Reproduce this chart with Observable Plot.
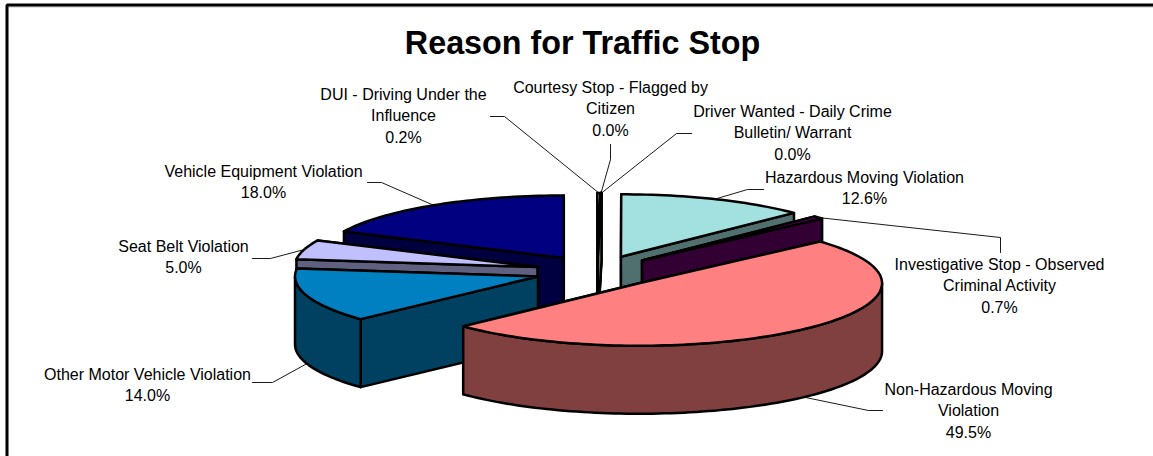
<!DOCTYPE html>
<html>
<head>
<meta charset="utf-8">
<script src="https://cdn.jsdelivr.net/npm/d3@7"></script>
<script src="https://cdn.jsdelivr.net/npm/@observablehq/plot@0.6"></script>
<style>html,body{margin:0;padding:0;background:#fff}svg{display:block}</style>
</head>
<body>
<div id="chart"></div>
<script>
// Data, clockwise from the top of the pie
const categories = [
  "DUI - Driving Under the\nInfluence",
  "Courtesy Stop - Flagged by\nCitizen",
  "Driver Wanted - Daily Crime\nBulletin/ Warrant",
  "Hazardous Moving Violation",
  "Investigative Stop - Observed\nCriminal Activity",
  "Non-Hazardous Moving\nViolation",
  "Other Motor Vehicle Violation",
  "Seat Belt Violation",
  "Vehicle Equipment Violation"
];
const values = [0.2, 0.02, 0.02, 12.6, 0.7, 49.5, 14.0, 5.0, 18.0];
const topColors = ["#FFFFCC", "#FFFFCC", "#FFFFCC", "#A3E0E0", "#660066", "#FF8080", "#0080C0", "#C0C0FF", "#000080"];
const sideColors = ["#808066", "#808066", "#808066", "#507070", "#330033", "#804040", "#004060", "#606080", "#000040"];
const title = "Reason for Traffic Stop";

// Layout of the 3D projection
const W = 1153, H = 456;
const cx = 596.5, cy = 271, rx = 243, ry = 62.5, depth = 68, explode = 62;
// small per-slice rotation (degrees) standing in for the original's perspective
const angleNudge = [0, 0, 0, -0.8, -0.9, -0.5, 0, 0, 0];
const rad = d => d * Math.PI / 180;
const total = d3.sum(values);
let acc = 0;
const slices = values.map((v, i) => {
  const a0 = acc / total * 360 + angleNudge[i]; acc += v; const a1 = acc / total * 360 + angleNudge[i];
  const m = (a0 + a1) / 2;
  return {i, a0, a1, m,
    ax: cx + explode * Math.sin(rad(m)),
    ay: cy - explode * (ry / rx) * Math.cos(rad(m))};
});
const rim = (s, a, dz = 0) => ({x: s.ax + rx * Math.sin(rad(a)), y: s.ay - ry * Math.cos(rad(a)) + dz});
const arc = (s, a0, a1, dz = 0) => {
  const n = Math.max(2, Math.ceil(Math.abs(a1 - a0) / 1.5));
  return d3.range(n + 1).map(k => rim(s, a0 + (a1 - a0) * k / n, dz));
};
const apex = (s, dz = 0) => ({x: s.ax, y: s.ay + dz});

// Painter's order: back to front
const order = [8, 0, 1, 2, 3, 4, 7, 6, 5];
const strokeOpts = {stroke: "#000", strokeWidth: 2.5, strokeLinejoin: "round", curve: "linear-closed"};
const poly = (pts, fill) => Plot.line(pts, {x: "x", y: "y", fill, ...strokeOpts});
const pieMarks = [];
for (const i of order) {
  const s = slices[i], side = sideColors[i], top = topColors[i];
  // the cut face nearer the viewer is painted last
  const faces = [s.a0, s.a1].sort((p, q) => rim(s, p).y - rim(s, q).y);
  for (const a of faces) {
    pieMarks.push(poly([apex(s), rim(s, a), rim(s, a, depth), apex(s, depth)], side));
  }
  const f0 = Math.max(s.a0, 90), f1 = Math.min(s.a1, 270);
  if (f1 > f0) pieMarks.push(poly([...arc(s, f0, f1), ...arc(s, f1, f0, depth)], side));
  pieMarks.push(poly([apex(s), ...arc(s, s.a0, s.a1)], top));
}

// Label placement: text centre and leader elbow(s), by category index
const labelPos = [
  {x: 403, y: 114, leader: [[490, 116], [504, 116]]},
  {x: 610, y: 107, leader: [[610, 144], [610, 159]]},
  {x: 792, y: 131, leader: [[691, 133], [676, 133]]},
  {x: 864, y: 186, leader: [[763, 189], [747, 189]]},
  {x: 999, y: 284, leader: [[1000, 252], [1000, 237]]},
  {x: 968, y: 409, leader: [[882, 410], [868, 410]]},
  {x: 147, y: 383, leader: [[252, 382], [272, 382]]},
  {x: 183, y: 255, leader: [[252, 258], [270, 258]]},
  {x: 263, y: 180, leader: [[367, 182], [381, 182]]}
];
const labels = categories.map((c, i) => ({
  text: `${c}\n${values[i].toFixed(1)}%`, x: labelPos[i].x, y: labelPos[i].y
}));
const leaders = labelPos.map((p, i) => {
  const s = slices[i];
  const end = rim(s, s.m, s.m > 90 && s.m < 270 ? depth : 0);
  return [...p.leader.map(([x, y]) => ({x, y})), end];
});

const chart = Plot.plot({
  width: W, height: H, margin: 0,
  x: {domain: [0, W], range: [0, W], axis: null},
  y: {domain: [0, H], range: [0, H], axis: null},
  style: {background: "#fff"},
  marks: [
    Plot.line([{x: 8, y: 6.5}, {x: W, y: 6.5}], {x: "x", y: "y", stroke: "#c4c4c4", strokeWidth: 1}),
    Plot.line([{x: 6.5, y: H}, {x: 6.5, y: 4.5}, {x: W, y: 4.5}], {x: "x", y: "y", stroke: "#000", strokeWidth: 3, strokeLinejoin: "miter"}),
    ...leaders.map(l => Plot.line(l, {x: "x", y: "y", stroke: "#000", strokeWidth: 0.9})),
    ...pieMarks,
    Plot.text(labels, {x: "x", y: "y", text: "text", textAnchor: "middle", lineAnchor: "middle",
      lineHeight: 1.34, fontSize: 16, fontFamily: "Liberation Sans, Arial, sans-serif", fill: "#000"}),
    Plot.text([title], {x: () => 582, y: () => 43, text: d => d, textAnchor: "middle", lineAnchor: "middle",
      fontSize: 32.3, fontWeight: "bold", fontFamily: "Liberation Sans, Arial, sans-serif", fill: "#000"})
  ]
});
document.getElementById("chart").appendChild(chart);
</script>
</body>
</html>
